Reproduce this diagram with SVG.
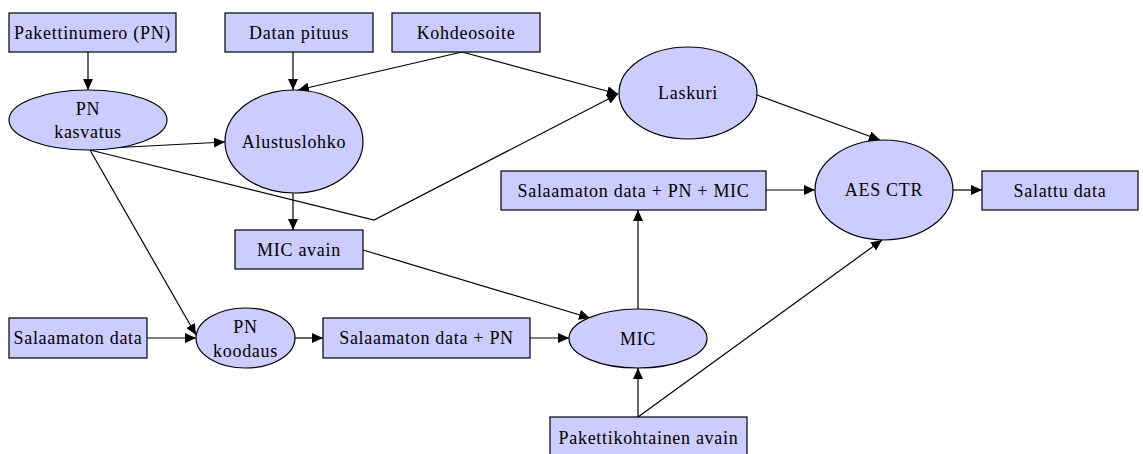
<svg xmlns="http://www.w3.org/2000/svg" width="1143" height="454" viewBox="0 0 1143 454">
  <defs>
    <marker id="arrow" markerUnits="userSpaceOnUse" markerWidth="12" markerHeight="10" refX="11" refY="5" orient="auto">
      <path d="M0,0 L11,5 L0,10 Z" fill="#000"/>
    </marker>
    <style>
      .node rect, .node ellipse { fill: #ccccff; stroke: #000; stroke-width: 1.2; }
      .node text { font-family: "Liberation Serif", "Times New Roman", serif; font-size: 18px; letter-spacing: 0.7px; text-anchor: middle; fill: #000; }
      #connectors path { fill: none; stroke: #000; stroke-width: 1.2; marker-end: url(#arrow); }
    </style>
  </defs>
  <rect width="1143" height="454" fill="#fff"/>

  <!-- connectors -->
  <g id="connectors">
    <path d="M88,52 L88,90"/>
    <path d="M293,52 L293,90"/>
    <path d="M462,52 L298,90"/>
    <path d="M462,52 L618,94"/>
    <path d="M90,149 L225,142"/>
    <path d="M90,150 L374,220 L618,94"/>
    <path d="M90,150 L196,335"/>
    <path d="M293,193 L293,230"/>
    <path d="M363,250 L590,318"/>
    <path d="M147,338 L196,338"/>
    <path d="M295,338 L323,338"/>
    <path d="M530,338 L569,338"/>
    <path d="M638,309 L638,210"/>
    <path d="M638,417 L638,368"/>
    <path d="M638,417 L882,240"/>
    <path d="M757,95 L880,140"/>
    <path d="M766,190 L815,190"/>
    <path d="M953,190 L982,190"/>
  </g>

  <!-- nodes -->
  <g id="pakettinumero" class="node">
    <rect x="9" y="13" width="167" height="39"/>
    <text x="92.5" y="39">Pakettinumero (PN)</text>
  </g>
  <g id="datan-pituus" class="node">
    <rect x="225" y="13" width="148" height="39"/>
    <text x="299" y="39">Datan pituus</text>
  </g>
  <g id="kohdeosoite" class="node">
    <rect x="392" y="13" width="148" height="39"/>
    <text x="466" y="39">Kohdeosoite</text>
  </g>
  <g id="pn-kasvatus" class="node">
    <ellipse cx="88" cy="120" rx="79" ry="30"/>
    <text x="88" y="115">PN</text>
    <text x="88" y="138">kasvatus</text>
  </g>
  <g id="alustuslohko" class="node">
    <ellipse cx="294" cy="141.5" rx="69" ry="51.5"/>
    <text x="294" y="148">Alustuslohko</text>
  </g>
  <g id="laskuri" class="node">
    <ellipse cx="688" cy="93" rx="69" ry="46"/>
    <text x="688" y="99">Laskuri</text>
  </g>
  <g id="data-pn-mic" class="node">
    <rect x="501" y="171" width="265" height="39"/>
    <text x="633.5" y="197">Salaamaton data + PN + MIC</text>
  </g>
  <g id="aes-ctr" class="node">
    <ellipse cx="884" cy="190" rx="69" ry="50"/>
    <text x="884" y="196">AES CTR</text>
  </g>
  <g id="salattu-data" class="node">
    <rect x="982" y="171" width="156" height="39"/>
    <text x="1060" y="197">Salattu data</text>
  </g>
  <g id="mic-avain" class="node">
    <rect x="235" y="230" width="128" height="39"/>
    <text x="299" y="256">MIC avain</text>
  </g>
  <g id="salaamaton-data" class="node">
    <rect x="9" y="318" width="138" height="40"/>
    <text x="78" y="344">Salaamaton data</text>
  </g>
  <g id="pn-koodaus" class="node">
    <ellipse cx="245.5" cy="338" rx="49.5" ry="30"/>
    <text x="245.5" y="333">PN</text>
    <text x="245.5" y="357">koodaus</text>
  </g>
  <g id="data-pn" class="node">
    <rect x="323" y="318" width="207" height="40"/>
    <text x="426.5" y="344">Salaamaton data + PN</text>
  </g>
  <g id="mic" class="node">
    <ellipse cx="638" cy="338.5" rx="69" ry="29.5"/>
    <text x="638" y="345">MIC</text>
  </g>
  <g id="pakettikohtainen-avain" class="node">
    <rect x="550" y="417" width="197" height="40"/>
    <text x="648.5" y="444">Pakettikohtainen avain</text>
  </g>
</svg>
